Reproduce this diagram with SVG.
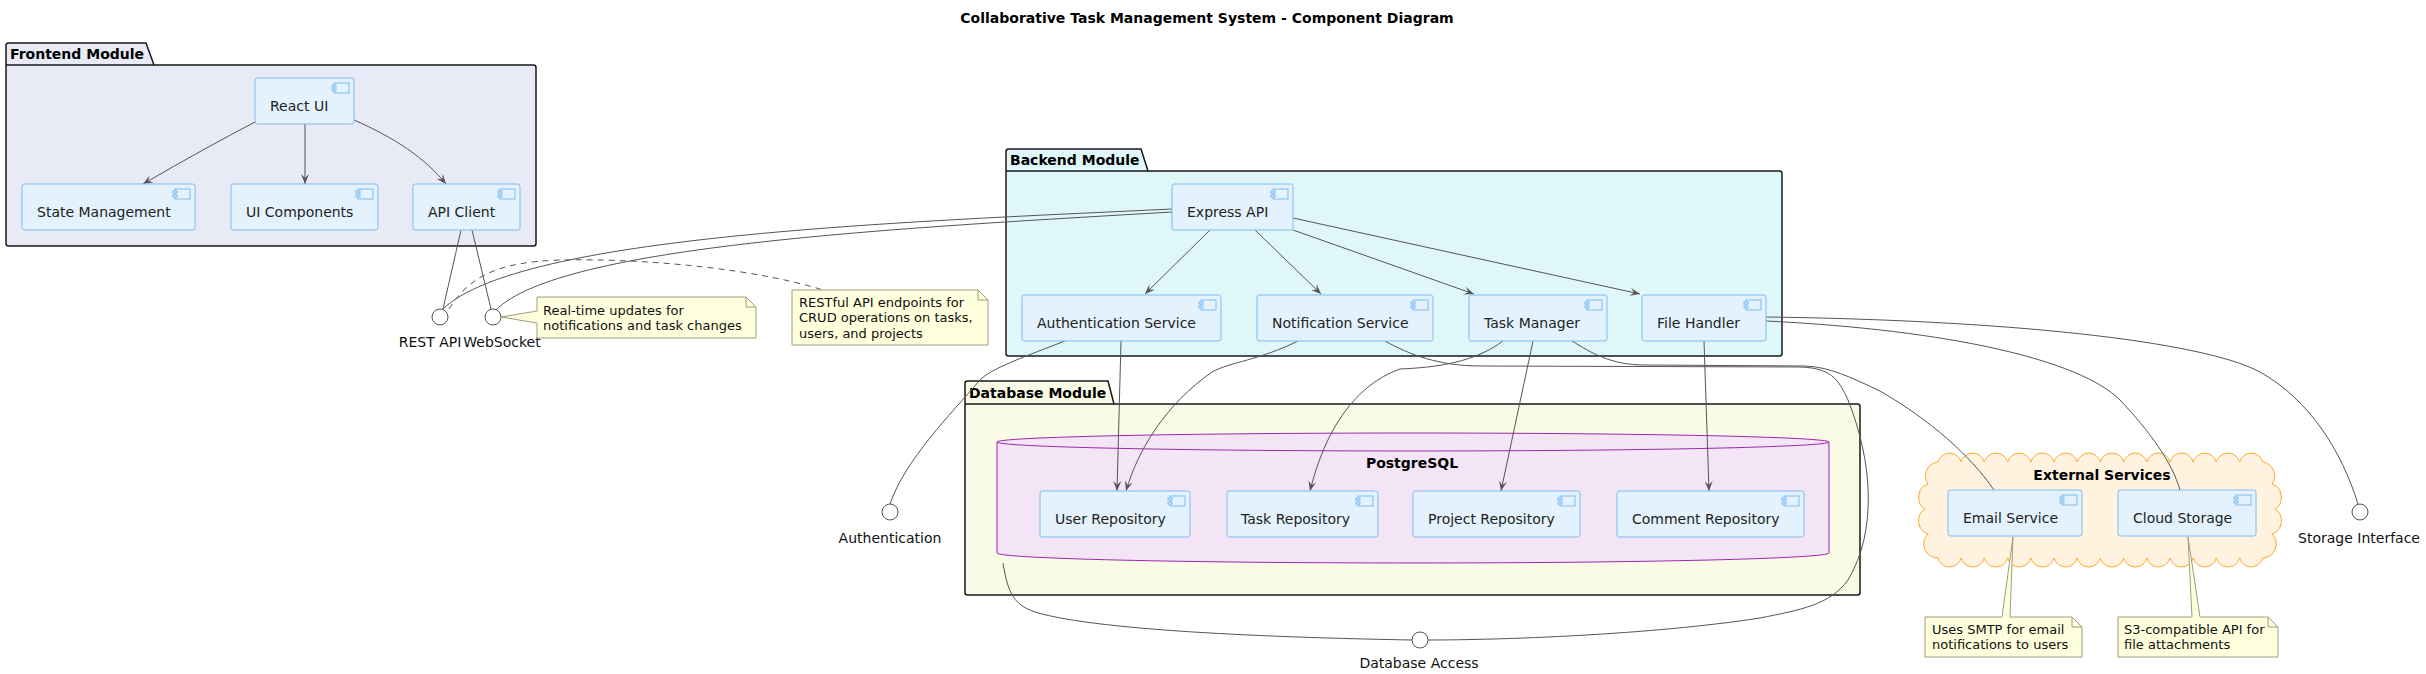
<svg xmlns="http://www.w3.org/2000/svg" width="2426" height="674" viewBox="0 0 2426 674">
<defs>
<style>
text{font-family:"DejaVu Sans","Liberation Sans",sans-serif;}
.pkg{stroke:#181818;stroke-width:1.5;}
.tabline{stroke:#181818;stroke-width:1.5;fill:none;}
.ptitle{font-size:14px;font-weight:bold;fill:#000;}
.box{fill:#E3F2FD;stroke:#7DBBF3;stroke-width:1;}
.ico{fill:#E3F2FD;stroke:#7DBBF3;stroke-width:1;}
.lbl{font-size:14px;fill:#222;}
.ilbl{font-size:14px;fill:#111;text-anchor:middle;}
.note{fill:#FEFFDD;stroke:#9E9E7E;stroke-width:1;}
.fold{fill:none;stroke:#9E9E7E;stroke-width:1;}
.ntxt{font-size:13px;fill:#111;}
.edge{fill:none;stroke:#555;stroke-width:1;}
.arrow{marker-end:url(#ah);}
.dash{stroke-dasharray:6,5;}
.iface{fill:#fff;stroke:#555;stroke-width:1;}
</style>
<marker id="ah" viewBox="0 0 10 8" refX="10" refY="4" markerWidth="10" markerHeight="8" markerUnits="userSpaceOnUse" orient="auto">
<path d="M0,0 L10,4 L0,8 L4,4 Z" fill="#555"/>
</marker>
</defs>
<rect width="2426" height="674" fill="#fff"/>

<g id="title">
<text x="1207" y="23" text-anchor="middle" class="ptitle">Collaborative Task Management System - Component Diagram</text>
</g>

<g id="frontend-module">
<path class="pkg" fill="#E8EAF6" d="M8.5,43 H146 L154,65 H533.5 Q536,65 536,67.5 V243.5 Q536,246 533.5,246 H8.5 Q6,246 6,243.5 V45.5 Q6,43 8.5,43 Z"/>
<line class="tabline" x1="6" y1="65" x2="154" y2="65"/>
<text x="10" y="59" class="ptitle">Frontend Module</text>
</g>

<g id="backend-module">
<path class="pkg" fill="#E0F7FA" d="M1008.5,149 H1141 L1148,171 H1779.5 Q1782,171 1782,173.5 V353.5 Q1782,356 1779.5,356 H1008.5 Q1006,356 1006,353.5 V151.5 Q1006,149 1008.5,149 Z"/>
<line class="tabline" x1="1006" y1="171" x2="1148" y2="171"/>
<text x="1010" y="165" class="ptitle">Backend Module</text>
</g>

<g id="database-module">
<path class="pkg" fill="#F9FBE7" d="M967.5,381 H1108 L1114,404 H1857.5 Q1860,404 1860,406.5 V592.5 Q1860,595 1857.5,595 H967.5 Q965,595 965,592.5 V383.5 Q965,381 967.5,381 Z"/>
<line class="tabline" x1="965" y1="404" x2="1114" y2="404"/>
<text x="969" y="398" class="ptitle">Database Module</text>
</g>

<g id="postgresql">
<path d="M997,442 A416,9 0 0 1 1829,442 V553 A416,10 0 0 1 997,553 Z" fill="#F3E5F5" stroke="#9C27B0" stroke-width="1"/>
<path d="M997,442 A416,9 0 0 0 1829,442" fill="none" stroke="#9C27B0" stroke-width="1"/>
<text x="1412" y="468" text-anchor="middle" class="ptitle">PostgreSQL</text>
</g>

<g id="external-services">
<path fill="#FFF3E0" stroke="#FFA726" stroke-width="1" d="M1938,462 A12,12 0 0 1 1961.2,462 A12,12 0 0 1 1984.4,462 A12,12 0 0 1 2007.6,462 A12,12 0 0 1 2030.8,462 A12,12 0 0 1 2054,462 A12,12 0 0 1 2077.2,462 A12,12 0 0 1 2100.4,462 A12,12 0 0 1 2123.6,462 A12,12 0 0 1 2146.8,462 A12,12 0 0 1 2170,462 A12,12 0 0 1 2193.2,462 A12,12 0 0 1 2216.4,462 A12,12 0 0 1 2239.6,462 A12,12 0 0 1 2262.8,462 A14,14 0 0 1 2272,484 A14,14 0 0 1 2275,509 A14,14 0 0 1 2272,534 A14,14 0 0 1 2262.8,558 A12,12 0 0 1 2239.6,558 A12,12 0 0 1 2216.4,558 A12,12 0 0 1 2193.2,558 A12,12 0 0 1 2170,558 A12,12 0 0 1 2146.8,558 A12,12 0 0 1 2123.6,558 A12,12 0 0 1 2100.4,558 A12,12 0 0 1 2077.2,558 A12,12 0 0 1 2054,558 A12,12 0 0 1 2030.8,558 A12,12 0 0 1 2007.6,558 A12,12 0 0 1 1984.4,558 A12,12 0 0 1 1961.2,558 A12,12 0 0 1 1938,558 A14,14 0 0 1 1928,534 A14,14 0 0 1 1925,509 A14,14 0 0 1 1928,484 A14,14 0 0 1 1938,462 Z"/>
<text x="2102" y="480" text-anchor="middle" class="ptitle">External Services</text>
</g>

<g id="connectors">
<path class="edge arrow" d="M255,122 Q205,148 143,184"/>
<path class="edge arrow" d="M305,124 L305,184"/>
<path class="edge arrow" d="M354,120 C395,138 425,158 446,184"/>
<path class="edge" d="M461,230 L443,309"/>
<path class="edge" d="M472,230 L491,309"/>
<path class="edge" d="M1172,209 C900,222 520,235 443,309"/>
<path class="edge" d="M1172,212 C900,228 560,245 496,310"/>
<path class="edge dash" d="M449,309 C470,275 500,262 560,260 C650,258 760,270 823,290"/>
<path class="edge arrow" d="M1210,230 L1145,294"/>
<path class="edge arrow" d="M1255,230 L1321,294"/>
<path class="edge arrow" d="M1293,230 L1474,294"/>
<path class="edge arrow" d="M1293,218 L1640,294"/>
<path class="edge arrow" d="M1121,341 L1117,491"/>
<path class="edge arrow" d="M1298,341 C1260,360 1230,362 1212,372 C1165,405 1138,450 1126,491"/>
<path class="edge arrow" d="M1503,341 C1480,358 1450,367 1400,369 C1355,385 1325,430 1310,491"/>
<path class="edge arrow" d="M1533,341 L1501,491"/>
<path class="edge arrow" d="M1704,341 L1709,491"/>
<path class="edge" d="M1065,341 C1010,362 990,370 980,380 C950,415 905,460 890,504"/>
<path class="edge" d="M1003,563 C1008,595 1015,605 1035,612 C1100,632 1300,638 1412,640"/>
<path class="edge" d="M1385,341 C1410,355 1440,366 1480,366 L1800,367 C1830,368 1838,378 1848,400 C1872,460 1878,530 1848,580 C1830,605 1800,610 1760,618 C1650,635 1500,640 1428,640"/>
<path class="edge" d="M1572,341 C1590,352 1610,365 1645,365 L1805,366 C1830,367 1850,377 1880,391 C1930,420 1970,455 1994,490"/>
<path class="edge" d="M1766,321 C1950,330 2080,360 2120,400 C2150,432 2172,462 2180,490"/>
<path class="edge" d="M1766,317 C2000,320 2200,340 2260,372 C2310,400 2342,452 2358,504"/>
</g>

<g id="react-ui">
<rect class="box" x="255" y="78" width="99" height="46" rx="2.5"/>
<rect class="ico" x="334" y="83" width="15" height="10"/><rect class="ico" x="332" y="85" width="4" height="2"/><rect class="ico" x="332" y="89" width="4" height="2"/>
<text x="270" y="111" class="lbl">React UI</text>
</g>
<g id="state-management">
<rect class="box" x="22" y="184" width="173" height="46" rx="2.5"/>
<rect class="ico" x="175" y="189" width="15" height="10"/><rect class="ico" x="173" y="191" width="4" height="2"/><rect class="ico" x="173" y="195" width="4" height="2"/>
<text x="37" y="217" class="lbl">State Management</text>
</g>
<g id="ui-components">
<rect class="box" x="231" y="184" width="147" height="46" rx="2.5"/>
<rect class="ico" x="358" y="189" width="15" height="10"/><rect class="ico" x="356" y="191" width="4" height="2"/><rect class="ico" x="356" y="195" width="4" height="2"/>
<text x="246" y="217" class="lbl">UI Components</text>
</g>
<g id="api-client">
<rect class="box" x="413" y="184" width="107" height="46" rx="2.5"/>
<rect class="ico" x="500" y="189" width="15" height="10"/><rect class="ico" x="498" y="191" width="4" height="2"/><rect class="ico" x="498" y="195" width="4" height="2"/>
<text x="428" y="217" class="lbl">API Client</text>
</g>

<g id="express-api">
<rect class="box" x="1172" y="184" width="121" height="46" rx="2.5"/>
<rect class="ico" x="1273" y="189" width="15" height="10"/><rect class="ico" x="1271" y="191" width="4" height="2"/><rect class="ico" x="1271" y="195" width="4" height="2"/>
<text x="1187" y="217" class="lbl">Express API</text>
</g>
<g id="authentication-service">
<rect class="box" x="1022" y="295" width="199" height="46" rx="2.5"/>
<rect class="ico" x="1201" y="300" width="15" height="10"/><rect class="ico" x="1199" y="302" width="4" height="2"/><rect class="ico" x="1199" y="306" width="4" height="2"/>
<text x="1037" y="328" class="lbl">Authentication Service</text>
</g>
<g id="notification-service">
<rect class="box" x="1257" y="295" width="176" height="46" rx="2.5"/>
<rect class="ico" x="1413" y="300" width="15" height="10"/><rect class="ico" x="1411" y="302" width="4" height="2"/><rect class="ico" x="1411" y="306" width="4" height="2"/>
<text x="1272" y="328" class="lbl">Notification Service</text>
</g>
<g id="task-manager">
<rect class="box" x="1469" y="295" width="138" height="46" rx="2.5"/>
<rect class="ico" x="1587" y="300" width="15" height="10"/><rect class="ico" x="1585" y="302" width="4" height="2"/><rect class="ico" x="1585" y="306" width="4" height="2"/>
<text x="1484" y="328" class="lbl">Task Manager</text>
</g>
<g id="file-handler">
<rect class="box" x="1642" y="295" width="124" height="46" rx="2.5"/>
<rect class="ico" x="1746" y="300" width="15" height="10"/><rect class="ico" x="1744" y="302" width="4" height="2"/><rect class="ico" x="1744" y="306" width="4" height="2"/>
<text x="1657" y="328" class="lbl">File Handler</text>
</g>

<g id="user-repository">
<rect class="box" x="1040" y="491" width="150" height="46" rx="2.5"/>
<rect class="ico" x="1170" y="496" width="15" height="10"/><rect class="ico" x="1168" y="498" width="4" height="2"/><rect class="ico" x="1168" y="502" width="4" height="2"/>
<text x="1055" y="524" class="lbl">User Repository</text>
</g>
<g id="task-repository">
<rect class="box" x="1227" y="491" width="151" height="46" rx="2.5"/>
<rect class="ico" x="1358" y="496" width="15" height="10"/><rect class="ico" x="1356" y="498" width="4" height="2"/><rect class="ico" x="1356" y="502" width="4" height="2"/>
<text x="1241" y="524" class="lbl">Task Repository</text>
</g>
<g id="project-repository">
<rect class="box" x="1413" y="491" width="167" height="46" rx="2.5"/>
<rect class="ico" x="1560" y="496" width="15" height="10"/><rect class="ico" x="1558" y="498" width="4" height="2"/><rect class="ico" x="1558" y="502" width="4" height="2"/>
<text x="1428" y="524" class="lbl">Project Repository</text>
</g>
<g id="comment-repository">
<rect class="box" x="1617" y="491" width="187" height="46" rx="2.5"/>
<rect class="ico" x="1784" y="496" width="15" height="10"/><rect class="ico" x="1782" y="498" width="4" height="2"/><rect class="ico" x="1782" y="502" width="4" height="2"/>
<text x="1632" y="524" class="lbl">Comment Repository</text>
</g>

<g id="email-service">
<rect class="box" x="1948" y="490" width="134" height="46" rx="2.5"/>
<rect class="ico" x="2062" y="495" width="15" height="10"/><rect class="ico" x="2060" y="497" width="4" height="2"/><rect class="ico" x="2060" y="501" width="4" height="2"/>
<text x="1963" y="523" class="lbl">Email Service</text>
</g>
<g id="cloud-storage">
<rect class="box" x="2118" y="490" width="138" height="46" rx="2.5"/>
<rect class="ico" x="2236" y="495" width="15" height="10"/><rect class="ico" x="2234" y="497" width="4" height="2"/><rect class="ico" x="2234" y="501" width="4" height="2"/>
<text x="2133" y="523" class="lbl">Cloud Storage</text>
</g>

<g id="rest-api">
<circle class="iface" cx="440" cy="317" r="8"/>
<text x="430" y="347" class="ilbl">REST API</text>
</g>
<g id="websocket">
<circle class="iface" cx="493" cy="317" r="8"/>
<text x="502" y="347" class="ilbl">WebSocket</text>
</g>
<g id="authentication">
<circle class="iface" cx="890" cy="512" r="8"/>
<text x="890" y="543" class="ilbl">Authentication</text>
</g>
<g id="database-access">
<circle class="iface" cx="1420" cy="640" r="8"/>
<text x="1419" y="668" class="ilbl">Database Access</text>
</g>
<g id="storage-interface">
<circle class="iface" cx="2360" cy="512" r="8"/>
<text x="2359" y="543" class="ilbl">Storage Interface</text>
</g>

<g id="note-websocket">
<path class="note" d="M537,297 H746 L756,307 V338 H537 V323 L501,317 L537,311 Z"/>
<path class="fold" d="M746,297 V307 H756"/>
<text x="543" y="315" class="ntxt">Real-time updates for</text>
<text x="543" y="330" class="ntxt">notifications and task changes</text>
</g>
<g id="note-rest-api">
<path class="note" d="M792,290 H978 L988,300 V345 H792 Z"/>
<path class="fold" d="M978,290 V300 H988"/>
<text x="799" y="307" class="ntxt">RESTful API endpoints for</text>
<text x="799" y="322" class="ntxt">CRUD operations on tasks,</text>
<text x="799" y="338" class="ntxt">users, and projects</text>
</g>
<g id="note-email">
<path class="note" d="M1925,617 H2002 L2013,537 L2010,617 H2072 L2082,627 V657 H1925 Z"/>
<path class="fold" d="M2072,617 V627 H2082"/>
<text x="1932" y="634" class="ntxt">Uses SMTP for email</text>
<text x="1932" y="649" class="ntxt">notifications to users</text>
</g>
<g id="note-cloud">
<path class="note" d="M2118,617 H2192 L2188,537 L2200,617 H2268 L2278,627 V657 H2118 Z"/>
<path class="fold" d="M2268,617 V627 H2278"/>
<text x="2124" y="634" class="ntxt">S3-compatible API for</text>
<text x="2124" y="649" class="ntxt">file attachments</text>
</g>
</svg>
